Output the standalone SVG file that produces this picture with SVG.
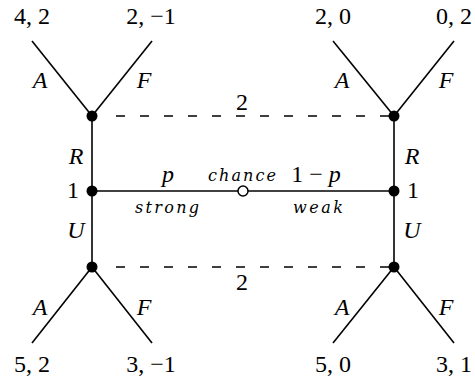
<svg xmlns="http://www.w3.org/2000/svg" width="475" height="383" viewBox="0 0 475 383" font-family="'Liberation Serif', 'DejaVu Serif', serif">
<style>
.e{stroke:#000;stroke-width:1.6;fill:none}
.d{stroke:#000;stroke-width:1.6;fill:none;stroke-dasharray:9 15}
.n{fill:#000}
.c{fill:#fff;stroke:#000;stroke-width:1.5}
text{fill:#000;text-anchor:middle}
.num{font-size:24px}
.it{font-size:24px;font-style:italic}
.sm{font-size:16px;font-style:italic;font-family:'DejaVu Serif','Liberation Serif',serif}
</style>
<rect width="475" height="383" fill="#fff"/>
<g id="connectors">
  <line class="e" x1="92" y1="116" x2="32" y2="41"/>
  <line class="e" x1="92" y1="116" x2="152" y2="41"/>
  <line class="e" x1="394" y1="116" x2="333" y2="41"/>
  <line class="e" x1="394" y1="116" x2="454" y2="41"/>
  <line class="e" x1="92" y1="267" x2="32" y2="343"/>
  <line class="e" x1="92" y1="267" x2="152" y2="343"/>
  <line class="e" x1="394" y1="267" x2="333" y2="343"/>
  <line class="e" x1="394" y1="267" x2="454" y2="343"/>
  <line class="e" x1="92" y1="116" x2="92" y2="267"/>
  <line class="e" x1="394" y1="116" x2="394" y2="267"/>
  <line class="e" x1="92" y1="191" x2="394" y2="191"/>
  <line class="d" x1="116" y1="116" x2="389" y2="116"/>
  <line class="d" x1="116" y1="267" x2="389" y2="267"/>
  <text class="it" x="40" y="88">A</text>
  <text class="it" x="144" y="88">F</text>
  <text class="it" x="342" y="88">A</text>
  <text class="it" x="446" y="88">F</text>
  <text class="it" x="40" y="315">A</text>
  <text class="it" x="144" y="315">F</text>
  <text class="it" x="342" y="315">A</text>
  <text class="it" x="446" y="315">F</text>
  <text class="it" x="76" y="164">R</text>
  <text class="it" x="412" y="164">R</text>
  <text class="it" x="76" y="238">U</text>
  <text class="it" x="412" y="238">U</text>
  <text class="it" x="168" y="182">p</text>
  <text class="num" x="316" y="182">1 − <tspan font-style="italic">p</tspan></text>
  <text class="sm" x="167" y="213" textLength="64" lengthAdjust="spacing">strong</text>
  <text class="sm" x="318" y="213" textLength="50" lengthAdjust="spacing">weak</text>
  <text class="num" x="242" y="110">2</text>
  <text class="num" x="242" y="290">2</text>
</g>
<g id="n1-strong"><circle class="n" cx="92" cy="191" r="5.5"/><text class="num" x="73" y="198">1</text></g>
<g id="n1-weak"><circle class="n" cx="394" cy="191" r="5.5"/><text class="num" x="413" y="198">1</text></g>
<g id="chance"><circle class="c" cx="243" cy="191" r="5"/><text class="sm" x="242" y="181" textLength="68" lengthAdjust="spacing">chance</text></g>
<g id="n2-strong-R"><circle class="n" cx="92" cy="116" r="5.5"/></g>
<g id="n2-weak-R"><circle class="n" cx="394" cy="116" r="5.5"/></g>
<g id="n2-strong-U"><circle class="n" cx="92" cy="267" r="5.5"/></g>
<g id="n2-weak-U"><circle class="n" cx="394" cy="267" r="5.5"/></g>
<g id="leaf-1"><text class="num" x="32" y="24">4, 2</text></g>
<g id="leaf-2"><text class="num" x="151" y="24">2, −1</text></g>
<g id="leaf-3"><text class="num" x="333" y="24">2, 0</text></g>
<g id="leaf-4"><text class="num" x="454" y="24">0, 2</text></g>
<g id="leaf-5"><text class="num" x="32" y="372">5, 2</text></g>
<g id="leaf-6"><text class="num" x="151" y="372">3, −1</text></g>
<g id="leaf-7"><text class="num" x="333" y="372">5, 0</text></g>
<g id="leaf-8"><text class="num" x="454" y="372">3, 1</text></g>
</svg>
